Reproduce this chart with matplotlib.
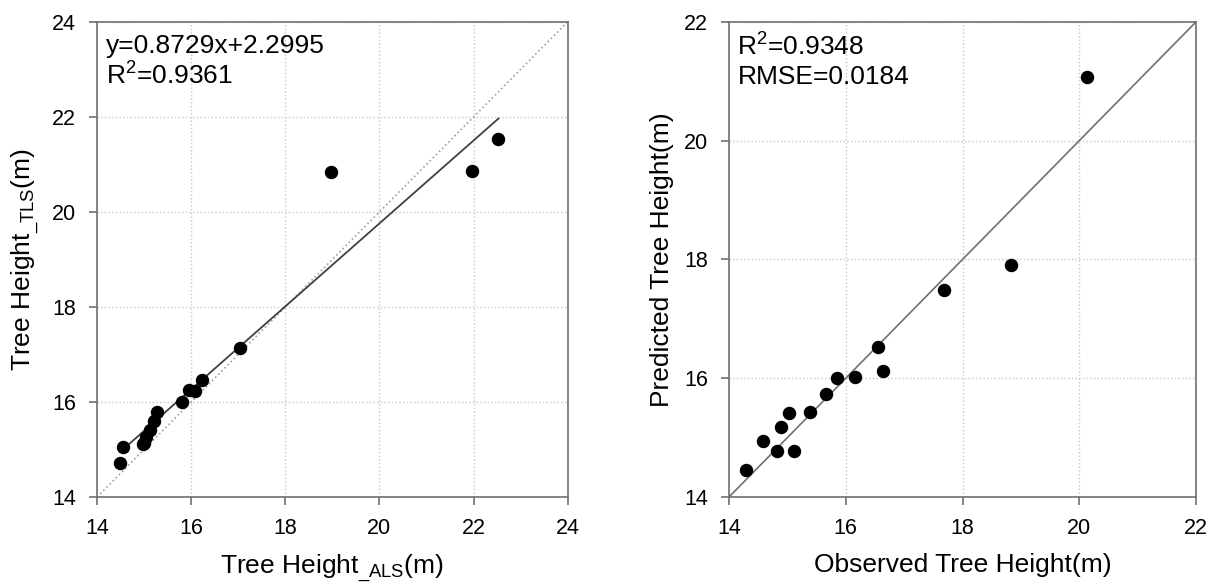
import numpy as np
import matplotlib
matplotlib.use("Agg")
import matplotlib.pyplot as plt

plt.rcParams['font.family'] = ['Liberation Sans', 'DejaVu Sans']
plt.rcParams['mathtext.fontset'] = 'custom'
plt.rcParams['mathtext.rm'] = 'Liberation Sans'
plt.rcParams['mathtext.it'] = 'Liberation Sans'

# ---- left panel: ALS vs TLS tree height ----
als_height = [14.49, 14.55, 15.00, 15.05, 15.12, 15.22, 15.27, 15.80, 15.95, 16.08,
              16.24, 17.04, 18.98, 21.97, 22.53, 14.98]
tls_height = [14.71, 15.06, 15.13, 15.26, 15.40, 15.61, 15.78, 16.01, 16.25, 16.24,
              16.46, 17.13, 20.84, 20.87, 21.53, 15.12]
fit_slope = 0.8729
fit_intercept = 2.2995

# ---- right panel: observed vs predicted ----
observed = [14.29, 14.59, 14.83, 14.89, 15.11, 15.03, 15.38, 15.66, 15.85, 16.15,
            16.55, 16.63, 17.69, 18.83, 20.13]
predicted = [14.45, 14.95, 14.77, 15.18, 14.78, 15.42, 15.43, 15.74, 16.00, 16.02,
             16.53, 16.12, 17.48, 17.91, 21.08]

fig = plt.figure(figsize=(12.13, 5.83), dpi=100)
ax1 = fig.add_axes([0.080, 0.1475, 0.388, 0.815])
ax2 = fig.add_axes([0.601, 0.1475, 0.385, 0.815])

spine_col = '#707070'
for ax in (ax1, ax2):
    ax.grid(True, linestyle=':', color='#c8c8c8', linewidth=1.0)
    ax.set_axisbelow(True)
    for s in ax.spines.values():
        s.set_color(spine_col)
        s.set_linewidth(1.2)
    ax.tick_params(direction='out', length=6, width=1.2, color=spine_col,
                   labelsize=15.5, pad=9)

# left
ax1.plot([14, 24], [14, 24], linestyle=':', color='#a0a0a0', linewidth=1.2)
xf = np.array([min(als_height), max(als_height)])
ax1.plot(xf, fit_slope * xf + fit_intercept, color='#404040', linewidth=1.3)
ax1.scatter(als_height, tls_height, s=75, color='black', zorder=3)
ax1.set_xlim(14, 24)
ax1.set_ylim(14, 24)
ax1.set_xticks(np.arange(14, 25, 2))
ax1.set_yticks(np.arange(14, 25, 2))
ax1.set_xlabel(r'Tree Height$_{\mathregular{\_ALS}}$(m)', fontsize=19, labelpad=10)
ax1.set_ylabel(r'Tree Height$_{\mathregular{\_TLS}}$(m)', fontsize=19, labelpad=7)
ax1.text(0.018, 0.975, 'y=0.8729x+2.2995\nR$^2$=0.9361', transform=ax1.transAxes,
         fontsize=19, va='top', ha='left', linespacing=1.2)

# right
ax2.plot([14, 22], [14, 22], color='#707070', linewidth=1.2)
ax2.scatter(observed, predicted, s=75, color='black', zorder=3)
ax2.set_xlim(14, 22)
ax2.set_ylim(14, 22)
ax2.set_xticks(np.arange(14, 23, 2))
ax2.set_yticks(np.arange(14, 23, 2))
ax2.set_xlabel('Observed Tree Height(m)', fontsize=19, labelpad=10)
ax2.set_ylabel('Predicted Tree Height(m)', fontsize=19, labelpad=7)
ax2.text(0.018, 0.975, 'R$^2$=0.9348\nRMSE=0.0184', transform=ax2.transAxes,
         fontsize=19, va='top', ha='left', linespacing=1.2)

fig.savefig('out.png', dpi=100)
